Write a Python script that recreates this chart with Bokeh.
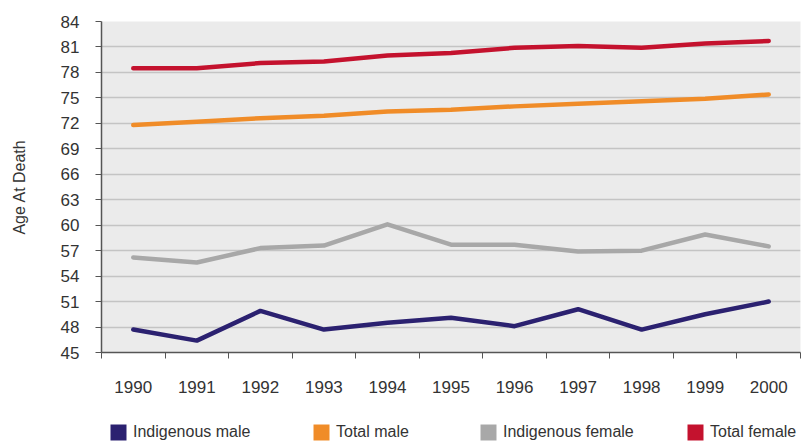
from bokeh.plotting import figure
from bokeh.layouts import column
from bokeh.models import Range1d, FixedTicker, Legend, LegendItem
from bokeh.embed import file_html
from bokeh.resources import INLINE

years = ["1990", "1991", "1992", "1993", "1994", "1995", "1996", "1997", "1998", "1999", "2000"]
indigenous_male = [47.7, 46.4, 49.9, 47.7, 48.5, 49.1, 48.1, 50.1, 47.7, 49.5, 51.0]
total_male = [71.8, 72.2, 72.6, 72.9, 73.4, 73.6, 74.0, 74.3, 74.6, 74.9, 75.4]
indigenous_female = [56.2, 55.6, 57.3, 57.6, 60.1, 57.7, 57.7, 56.9, 57.0, 58.9, 57.5]
total_female = [78.5, 78.5, 79.1, 79.3, 80.0, 80.3, 80.9, 81.1, 80.9, 81.4, 81.7]
y_ticks = list(range(45, 85, 3))
y_min, y_max = 45, 84

series = [
    ("Indigenous male", indigenous_male, "#2b2170"),
    ("Total male", total_male, "#f08c28"),
    ("Indigenous female", indigenous_female, "#a8a8a8"),
    ("Total female", total_female, "#c4122e"),
]

FONT = "Liberation Sans"
W = 805
H1, H2 = 410, 37

xs = [i + 0.5 for i in range(len(years))]

p = figure(width=W, height=H1, output_backend="svg", toolbar_location=None,
           x_range=Range1d(0, len(years)), y_range=Range1d(y_min, y_max),
           min_border_left=101, min_border_right=5, min_border_top=21, min_border_bottom=58)
p.background_fill_color = "#ebebeb"
p.border_fill_color = "white"
p.outline_line_color = None

for name, vals, col in series:
    p.line(xs, vals, line_color=col, line_width=4.5, line_join="round", line_cap="round")

p.xaxis.ticker = FixedTicker(ticks=xs, minor_ticks=list(range(len(years) + 1)))
p.xaxis.major_label_overrides = {x: y for x, y in zip(xs, years)}
p.xaxis.major_tick_out = 0
p.xaxis.major_tick_in = 0
p.xaxis.minor_tick_out = 6
p.xaxis.minor_tick_in = 0
p.xaxis.major_label_standoff = 22
p.xaxis.minor_tick_line_color = "#555555"

p.yaxis.ticker = FixedTicker(ticks=y_ticks)
p.yaxis.minor_tick_line_color = None
p.yaxis.major_tick_out = 6
p.yaxis.major_tick_in = 0
p.yaxis.major_label_standoff = 16
p.yaxis.axis_label = "Age At Death"
p.yaxis.axis_label_standoff = 30
p.yaxis.axis_label_text_font = FONT
p.yaxis.axis_label_text_font_style = "normal"
p.yaxis.axis_label_text_font_size = "16px"
p.yaxis.axis_label_text_color = "#333333"

for ax in (p.xaxis, p.yaxis):
    ax.axis_line_color = "#555555"
    ax.axis_line_width = 1.5
    ax.major_tick_line_color = "#555555"
    ax.major_label_text_font = FONT
    ax.major_label_text_font_size = "17px"
    ax.major_label_text_color = "#333333"

p.xgrid.grid_line_color = None
p.ygrid.ticker = FixedTicker(ticks=y_ticks)
p.ygrid.grid_line_color = "#c4c4c4"
p.ygrid.grid_line_width = 1.5

# legend strip below the chart
lg_fig = figure(width=W, height=H2, output_backend="svg", toolbar_location=None,
                x_axis_location=None, y_axis_location=None,
                min_border_left=0, min_border_right=0, min_border_top=0, min_border_bottom=0)
lg_fig.outline_line_color = None
lg_fig.xgrid.grid_line_color = None
lg_fig.ygrid.grid_line_color = None
lg_fig.background_fill_color = "white"
lg_fig.border_fill_color = "white"

leg_x = [7, 210, 377, 584]
for (name, vals, col), lx in zip(series, leg_x):
    sw = lg_fig.rect(x=xs, y=vals, width=0, height=0, fill_color=col, line_color=None)
    lg = Legend(items=[LegendItem(label=name, renderers=[sw])], location=(lx, 5),
                orientation="horizontal", glyph_width=20, glyph_height=20,
                label_standoff=5, label_height=16, padding=0, margin=0,
                spacing=0, border_line_color=None, background_fill_alpha=0,
                label_text_font=FONT, label_text_font_size="16px",
                label_text_color="#333333")
    lg_fig.add_layout(lg, "center")

layout = column(p, lg_fig, spacing=0)
open("out.html", "w").write(file_html(layout, INLINE))
